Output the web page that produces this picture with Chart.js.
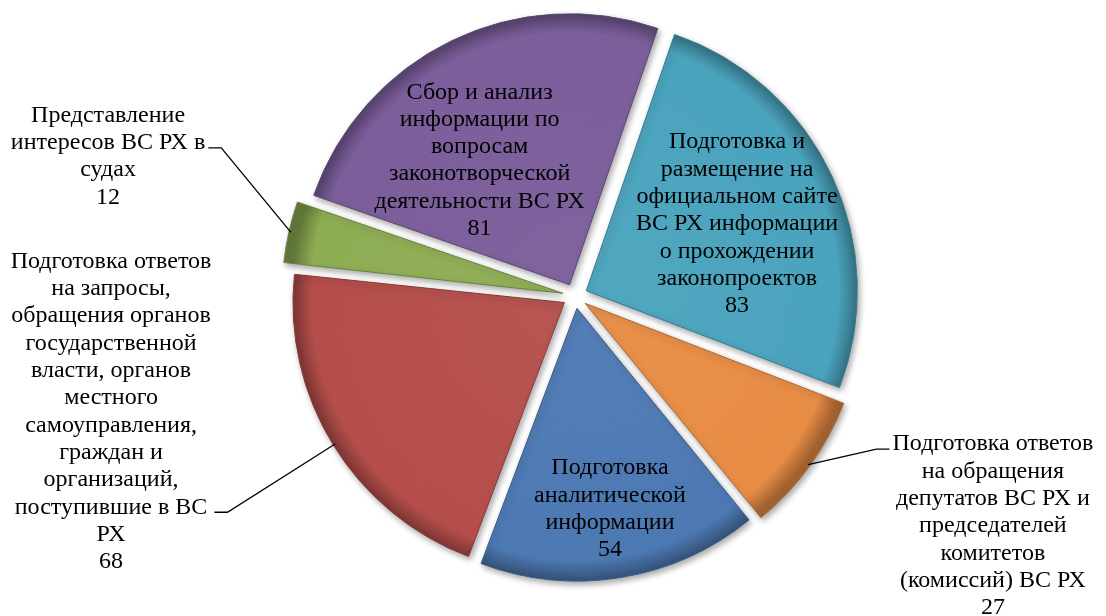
<!DOCTYPE html>
<html>
<head>
<meta charset="utf-8">
<script src="https://cdn.jsdelivr.net/npm/chart.js@4.4.0/dist/chart.umd.min.js"></script>
<style>
  html, body { margin: 0; padding: 0; background: #fff; }
  #wrap { width: 1106px; height: 616px; position: relative; }
</style>
</head>
<body>
<div id="wrap"><canvas id="myChart"></canvas></div>
<script>
// categories (label lines as in the picture), clockwise from the first slice
const categories = [
  ["Подготовка и", "размещение на", "официальном сайте", "ВС РХ информации", "о прохождении", "законопроектов"],
  ["Подготовка ответов", "на обращения", "депутатов ВС РХ и", "председателей", "комитетов", "(комиссий) ВС РХ"],
  ["Подготовка", "аналитической", "информации"],
  ["Подготовка ответов", "на запросы,", "обращения органов", "государственной", "власти, органов", "местного", "самоуправления,", "граждан и", "организаций,", "поступившие в ВС", "РХ"],
  ["Представление", "интересов ВС РХ в", "судах"],
  ["Сбор и анализ", "информации по", "вопросам", "законотворческой", "деятельности ВС РХ"]
];
const values = [83, 27, 54, 68, 12, 81];
const sliceColors = ["#4AA3BD", "#E78C45", "#4D79B3", "#B54E4B", "#8DAD53", "#7B5E9A"];

// label placement, relative to pie centre in units of radius
const labelAnchors = [[0.598, -0.266], [1.542, 0.849], [0.129, 0.786], [-1.712, 0.427], [-1.723, -0.515], [-0.352, -0.5]];
// which text line the leader line attaches to (null = label inside slice)
const leaderLine = [null, 0, null, 9, 1, null];

const pieRadius = 271;
const explode = 50;
const lineHeight = 27.3;
const labelFont = '24px "Liberation Serif", "Times New Roman", serif';

function shade(hex, k) {
  const n = parseInt(hex.slice(1), 16);
  const r = n >> 16, g = (n >> 8) & 255, b = n & 255;
  const f = (c) => Math.round(k < 0 ? c * (1 + k) : c + (255 - c) * k);
  return `rgb(${f(r)},${f(g)},${f(b)})`;
}

function sliceFill(context) {
  const chart = context.chart;
  const area = chart.chartArea;
  const base = sliceColors[context.dataIndex];
  if (!area) return base;
  const cx = (area.left + area.right) / 2;
  const cy = (area.top + area.bottom) / 2;
  const g = chart.ctx.createRadialGradient(cx, cy, 0, cx, cy, pieRadius);
  g.addColorStop(0, shade(base, 0.04));
  g.addColorStop(0.93, base);
  g.addColorStop(1, shade(base, -0.3));
  return g;
}

const sliceShadow = {
  id: "sliceShadow",
  beforeDatasetsDraw(chart) {
    const ctx = chart.ctx;
    ctx.save();
    ctx.shadowColor = "rgba(0,0,0,0.35)";
    ctx.shadowBlur = 6;
    ctx.shadowOffsetX = 2;
    ctx.shadowOffsetY = 3;
  },
  afterDatasetsDraw(chart) {
    chart.ctx.restore();
  }
};

const sliceLabels = {
  id: "sliceLabels",
  afterDraw(chart) {
    const ctx = chart.ctx;
    const arcs = chart.getDatasetMeta(0).data;
    const shift = explode / 4;
    ctx.save();
    ctx.font = labelFont;
    ctx.fillStyle = "#000";
    ctx.textAlign = "center";
    ctx.textBaseline = "middle";
    arcs.forEach((arc, i) => {
      const p = arc.getProps(["x", "y", "startAngle", "endAngle", "outerRadius"], true);
      const lines = categories[i].concat(String(values[i]));
      const lx = p.x + labelAnchors[i][0] * p.outerRadius;
      const ly = p.y + labelAnchors[i][1] * p.outerRadius;
      const top = ly - (lines.length - 1) * lineHeight / 2;
      lines.forEach((t, k) => ctx.fillText(t, lx, top + k * lineHeight));

      if (leaderLine[i] !== null) {
        const mid = (p.startAngle + p.endAngle) / 2;
        const circ = p.endAngle - p.startAngle;
        const r = shift + p.outerRadius + shift * (1 - Math.sin(Math.min(Math.PI, circ))) - 2;
        const sx = p.x + Math.cos(mid) * r;
        const sy = p.y + Math.sin(mid) * r;
        const boxW = Math.max(...lines.map((t) => ctx.measureText(t).width));
        const side = sx > lx ? 1 : -1;
        const ex = lx + side * (boxW / 2 + 3);
        const ey = top + leaderLine[i] * lineHeight + 5;
        ctx.beginPath();
        ctx.moveTo(ex, ey);
        ctx.lineTo(ex + side * 13, ey);
        ctx.lineTo(sx, sy);
        ctx.strokeStyle = "#000";
        ctx.lineWidth = 1.3;
        ctx.stroke();
      }
    });
    ctx.restore();
  }
};

const chart = new Chart(document.getElementById("myChart"), {
  type: "pie",
  data: {
    labels: categories,
    datasets: [{
      data: values,
      backgroundColor: sliceFill,
      borderColor: sliceColors.map((c) => shade(c, -0.25)),
      borderWidth: 1,
      offset: explode
    }]
  },
  options: {
    responsive: true,
    maintainAspectRatio: false,
    animation: false,
    events: [],
    rotation: 19,
    radius: pieRadius,
    layout: { padding: { left: 44, top: 0, right: 0, bottom: 24 } },
    plugins: {
      legend: { display: false },
      tooltip: { enabled: false }
    }
  },
  plugins: [sliceShadow, sliceLabels]
});
</script>
</body>
</html>
